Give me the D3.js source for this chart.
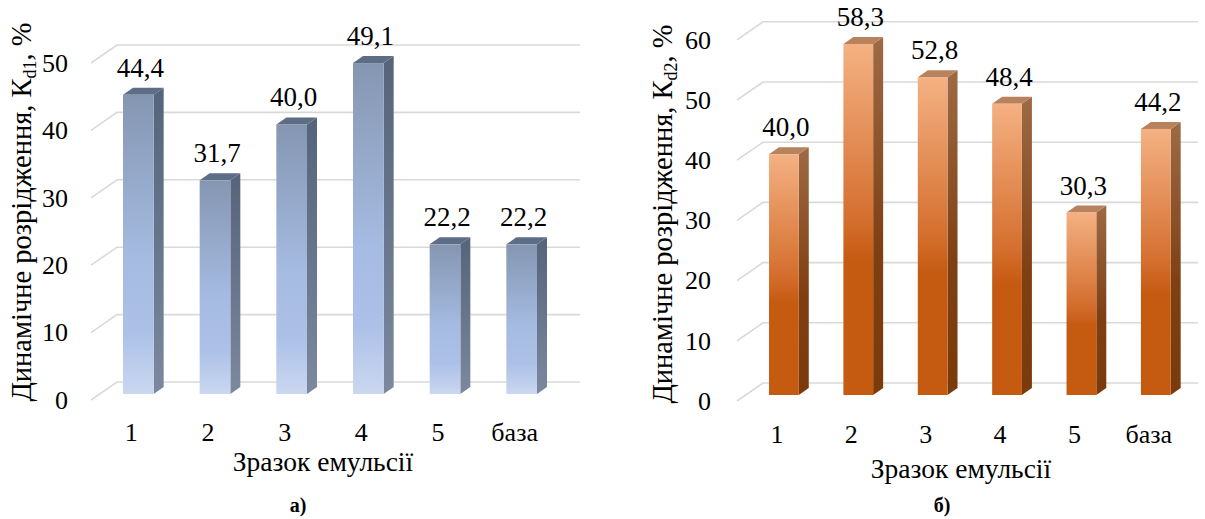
<!DOCTYPE html>
<html>
<head>
<meta charset="utf-8">
<script src="https://cdn.jsdelivr.net/npm/d3@7"></script>
<style>
  body { margin: 0; background: #fff; }
</style>
</head>
<body>
<svg id="chart" width="1205" height="519"></svg>
<script>
// data
var categories = ["1", "2", "3", "4", "5", "база"];
var kd1Values = [44.4, 31.7, 40.0, 49.1, 22.2, 22.2];
var kd2Values = [40.0, 58.3, 52.8, 48.4, 30.3, 44.2];
var kd1Ticks = [0, 10, 20, 30, 40, 50];
var kd2Ticks = [0, 10, 20, 30, 40, 50, 60];
var xTitle = "Зразок емульсії";
var yTitleMain = "Динамічне розрідження, К";

var FONT = "Liberation Serif";

var svg = d3.select("#chart");
var defs = svg.append("defs");

// gradients for the 3d bars
function gradient(id, stops) {
    var g = defs.append("linearGradient")
        .attr("id", id)
        .attr("x1", 0).attr("y1", 0).attr("x2", 0).attr("y2", 1);
    stops.forEach(function(s) {
        g.append("stop").attr("offset", s[0]).attr("stop-color", s[1]);
    });
}
gradient("blueFront", [[0, "#8496b1"], [0.55, "#a6bbe2"], [0.8, "#adc1e8"], [1, "#cad7ef"]]);
gradient("blueSide", [[0, "#55647b"], [1, "#7b889e"]]);
gradient("orangeFront", [[0, "#f4b183"], [0.5, "#d46f2e"], [0.62, "#c55a11"], [1, "#c55a11"]]);
gradient("orangeSide", [[0, "#9d6a45"], [0.6, "#7e3f12"], [1, "#7a3a0b"]]);

function drawChart(cfg) {
    var g = svg.append("g");

    var x = d3.scaleBand()
        .domain(categories)
        .range([cfg.x0, cfg.x1])
        .paddingInner(0.6)
        .paddingOuter(0.3);

    // value plane for bars
    var y = d3.scaleLinear()
        .domain([0, cfg.max])
        .range([cfg.base, cfg.base - cfg.max * cfg.k]);

    var front = 6, back = -12;   // depth offsets of the floor
    var dx = 26;

    // back wall gridlines + diagonal floor lines
    g.selectAll(".grid")
        .data(cfg.ticks)
        .enter().append("polyline")
        .attr("fill", "none")
        .attr("stroke", "#d9d9d9")
        .attr("stroke-width", 1.6)
        .attr("points", function(d) {
            return [cfg.gx, y(d) + front] + " " + [cfg.gx + dx, y(d) + back] + " " + [cfg.gEnd, y(d) + back];
        });

    // y axis labels
    var yFront = y.copy().range(y.range().map(function(v) { return v + front; }));
    var axis = g.append("g")
        .attr("transform", "translate(" + cfg.labelX + ",0)")
        .call(d3.axisLeft(yFront).tickValues(cfg.ticks).tickSize(0).tickPadding(0));
    axis.select(".domain").remove();
    axis.selectAll("text")
        .style("font-family", FONT)
        .style("font-size", "26px")
        .attr("fill", "#000");

    var bw = x.bandwidth();
    var sd = 10, sh = 7;   // bar side depth

    var bars = g.selectAll(".bar")
        .data(cfg.values)
        .enter().append("g");

    // side face
    bars.append("path")
        .attr("fill", "url(#" + cfg.side + ")")
        .attr("d", function(d, i) {
            var x0 = x(categories[i]) + bw;
            return "M" + x0 + "," + y(d) + "L" + (x0 + sd) + "," + (y(d) - sh) +
                "L" + (x0 + sd) + "," + (y(0) - sh) + "L" + x0 + "," + y(0) + "Z";
        });
    // top face
    bars.append("path")
        .attr("fill", cfg.top)
        .attr("d", function(d, i) {
            var x0 = x(categories[i]);
            return "M" + x0 + "," + y(d) + "L" + (x0 + sd) + "," + (y(d) - sh) +
                "L" + (x0 + bw + sd) + "," + (y(d) - sh) + "L" + (x0 + bw) + "," + y(d) + "Z";
        });
    // front face
    bars.append("rect")
        .attr("x", function(d, i) { return x(categories[i]); })
        .attr("y", function(d) { return y(d); })
        .attr("width", bw)
        .attr("height", function(d) { return y(0) - y(d); })
        .attr("fill", "url(#" + cfg.front + ")");

    // value labels
    g.selectAll(".val")
        .data(cfg.values)
        .enter().append("text")
        .attr("x", function(d, i) { return x(categories[i]) + bw / 2 + 2; })
        .attr("y", function(d) { return y(d) - 18; })
        .attr("text-anchor", "middle")
        .style("font-family", FONT)
        .style("font-size", "27px")
        .text(function(d) { return d3.format(".1f")(d).replace(".", ","); });

    // category labels
    g.selectAll(".cat")
        .data(categories)
        .enter().append("text")
        .attr("x", function(d) { return x(d) + bw / 2 - 7; })
        .attr("y", cfg.catY)
        .attr("text-anchor", "middle")
        .style("font-family", FONT)
        .style("font-size", "26px")
        .text(function(d) { return d; });

    // x title
    g.append("text")
        .attr("x", cfg.xTitleX)
        .attr("y", cfg.xTitleY)
        .attr("text-anchor", "middle")
        .style("font-family", FONT)
        .style("font-size", "27.5px")
        .text(xTitle);

    // y title
    var yt = g.append("text")
        .attr("transform", "translate(" + cfg.yTitleX + "," + cfg.yTitleY + ")rotate(-90)")
        .attr("text-anchor", "middle")
        .style("font-family", FONT)
        .style("font-size", "28.5px");
    yt.append("tspan").text(yTitleMain);
    yt.append("tspan").style("font-size", "18px").attr("dy", 5).text(cfg.sub);
    yt.append("tspan").attr("dy", -5).text(", %");

    // caption
    g.append("text")
        .attr("x", cfg.capX)
        .attr("y", 512)
        .attr("text-anchor", "middle")
        .style("font-family", FONT)
        .style("font-size", "20px")
        .style("font-weight", "bold")
        .text(cfg.caption);
}

drawChart({
    values: kd1Values, ticks: kd1Ticks, max: 50, k: 6.74, base: 394,
    x0: 100, x1: 560, gx: 91, gEnd: 580, labelX: 68,
    front: "blueFront", side: "blueSide", top: "#5e6d86",
    catY: 441, xTitleX: 323, xTitleY: 471, yTitleX: 31, yTitleY: 212,
    sub: "d1", caption: "а)", capX: 298
});

drawChart({
    values: kd2Values, ticks: kd2Ticks, max: 60, k: 6.02, base: 395,
    x0: 746.7, x1: 1193, gx: 737, gEnd: 1198, labelX: 711,
    front: "orangeFront", side: "orangeSide", top: "#b8825c",
    catY: 443, xTitleX: 961, xTitleY: 478, yTitleX: 672, yTitleY: 214,
    sub: "d2", caption: "б)", capX: 942
});
</script>
</body>
</html>
